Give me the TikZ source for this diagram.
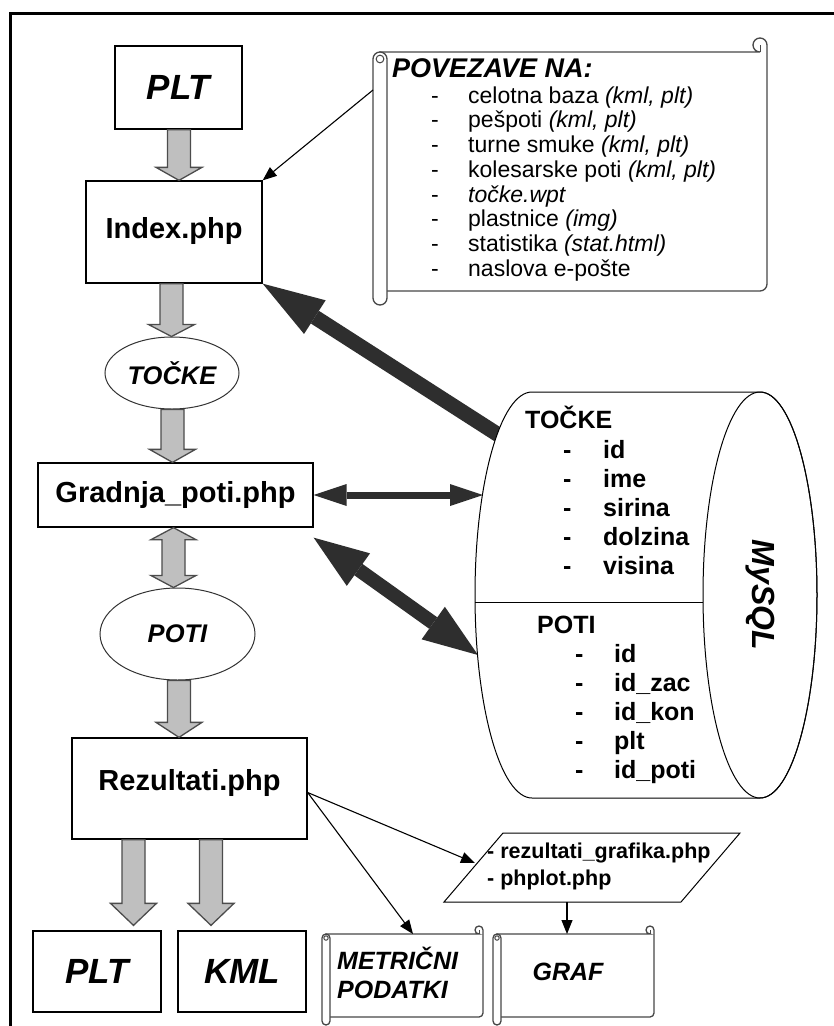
\documentclass[tikz,border=0pt]{standalone}
\usepackage{fontspec}
\setmainfont{Liberation Sans}
\usetikzlibrary{arrows.meta,shapes.geometric,calc}

\newcommand\fs[2]{\fontsize{#1}{#2}\selectfont}

% vertical grey block arrow: axis x, start anchor, tip anchor, head length
\newcommand\blkdown[4]{%
  \draw[blk] let \p1=(#2), \p2=(#3) in
    ({#1pt-11.5pt},\y1) -- ({#1pt+11.5pt},\y1) -- ({#1pt+11.5pt},{\y2+#4pt})
    -- ({#1pt+23pt},{\y2+#4pt}) -- ({#1pt},\y2) -- ({#1pt-23pt},{\y2+#4pt})
    -- ({#1pt-11.5pt},{\y2+#4pt}) -- cycle;}
% vertical grey block arrow with two heads
\newcommand\blkboth[4]{%
  \draw[blk] let \p1=(#2), \p2=(#3) in
    ({#1pt},\y1) -- ({#1pt+22.5pt},{\y1-#4pt}) -- ({#1pt+11.5pt},{\y1-#4pt})
    -- ({#1pt+11.5pt},{\y2+#4pt}) -- ({#1pt+22.5pt},{\y2+#4pt}) -- ({#1pt},\y2)
    -- ({#1pt-22.5pt},{\y2+#4pt}) -- ({#1pt-11.5pt},{\y2+#4pt})
    -- ({#1pt-11.5pt},{\y1-#4pt}) -- ({#1pt-22.5pt},{\y1-#4pt}) -- cycle;}
% horizontal scroll: left, top, right, bottom, roll size
\newcommand\scrollshape[5]{%
  \pgfmathsetmacro\rh{#5/2}
  \draw[scrollline] ({#1+\rh},{#2+#5}) -- ({#3-\rh},{#2+#5})
     arc (90:360:\rh) -- (#3,{#4-#5-\rh}) arc (0:90:\rh) -- ({#1+\rh},{#4-#5}) -- cycle;
  \draw[scrollline, line width=1pt] ({#3-\rh},{#2+\rh}) -- ({#3-\rh},{#2+#5});
  \draw[scrollline] (#1,{#2+#5+\rh}) arc (180:360:\rh) -- ({#1+#5},{#4-\rh}) arc (0:180:\rh) -- cycle;
  \draw[scrollline, line width=1pt] ({#1+\rh},{#2+#5+\rh}) circle ({0.55*\rh});
}

\tikzset{
  box/.style={draw=black, line width=1.3pt, fill=white, inner sep=0pt},
  phpfont/.style={font=\fs{29}{34}\bfseries},
  datafont/.style={font=\fs{35}{40}\bfseries\itshape},
  oval/.style={ellipse, draw=black!80, line width=1pt, fill=white, inner sep=0pt,
    font=\fs{25.5}{30}\bfseries\itshape},
  blk/.style={fill=black!25, draw=black!70, line width=1.3pt, line join=miter},
  heavy/.style={draw=black!82, line width=#1},
  link/.style={draw=black, line width=1.1pt, -{Triangle[length=14pt,width=11pt]}},
  scrollline/.style={draw=black!72, line width=1.3pt, fill=white},
  dbline/.style={draw=black, line width=1pt},
  listfont/.style={font=\fs{25}{29}\bfseries},
}

\begin{document}
\begin{tikzpicture}[x=1pt, y=-1pt]
\useasboundingbox (0,0) rectangle (834,1026);
\fill[white] (0,0) rectangle (834,1026);

% frame
\draw[line width=3pt] (10,1040) -- (10,13) -- (850,13);

% main flow
\node[box, datafont, minimum width=127pt, minimum height=83pt] (pltin) at (178.5,87.5) {PLT};
\node[box, phpfont, minimum width=176pt, minimum height=102pt] (index) at (174,232) {Index.php\rule[-9pt]{0pt}{0pt}\hspace{4pt}};
\node[oval, minimum width=134pt, minimum height=72pt] (tocke) at (172,373) {TOČKE};
\node[box, phpfont, minimum width=275pt, minimum height=64pt] (gradnja) at (175.5,495) {Gradnja\_poti.php};
\node[oval, minimum width=155pt, minimum height=92pt] (poti) at (177.5,634) {POTI};
\node[box, phpfont, minimum width=235pt, minimum height=101pt] (rez) at (189.5,788.5) {Rezultati.php\rule[-17pt]{0pt}{0pt}\hspace{16pt}};
\node[box, datafont, minimum width=128pt, minimum height=81pt] (pltout) at (97,971.5) {PLT\hspace{20pt}};
\node[box, datafont, minimum width=128pt, minimum height=81pt] (kml) at (242,971.5) {KML\hspace{15pt}};

\blkdown{179}{pltin.south}{index.north}{13}
\blkdown{171.5}{index.south}{tocke.north}{12}
\blkdown{172.5}{tocke.south}{gradnja.north}{13}
\blkboth{173.5}{gradnja.south}{poti.north}{12}
\blkdown{179}{poti.south}{rez.north}{15}
\blkdown{133.5}{rez.south}{[yshift=5pt]pltout.north}{22}
\blkdown{211}{rez.south}{[yshift=5pt]kml.north}{22}

% links list
\scrollshape{373}{38}{767}{305}{14}
\node[anchor=base west, inner sep=0pt, font=\fs{27}{30}\bfseries\itshape] (povhead) at (392,77) {POVEZAVE NA:};
\node[anchor=north west, align=left, inner sep=0pt, font=\fs{23}{24.7}] (povlist) at (431,81)
 {\rule{0pt}{22pt}\makebox[37pt][l]{-}celotna baza \textit{(kml, plt)}\\
  \makebox[37pt][l]{-}pešpoti \textit{(kml, plt)}\\
  \makebox[37pt][l]{-}turne smuke \textit{(kml, plt)}\\
  \makebox[37pt][l]{-}kolesarske poti \textit{(kml, plt)}\\
  \makebox[37pt][l]{-}\textit{točke.wpt}\\
  \makebox[37pt][l]{-}plastnice \textit{(img)}\\
  \makebox[37pt][l]{-}statistika \textit{(stat.html)}\\
  \makebox[37pt][l]{-}naslova e-pošte};
\coordinate (povL) at (373,90);
\draw[link] (povL) -- (index.north east);

% heavy connectors to the database
\coordinate (dbA) at (522,450);
\coordinate (dbB) at (483,495);
\coordinate (dbC) at (478,655);
\draw[heavy=15pt, -{Triangle[length=62pt,width=40pt,line width=0pt]}] (dbA) -- (index.south east);
\draw[heavy=7pt, {Triangle[length=33pt,width=22pt,line width=0pt]}-{Triangle[length=33pt,width=22pt,line width=0pt]}] (gradnja.east) -- (dbB);
\draw[heavy=14pt, {Triangle[length=55pt,width=40pt,line width=0pt]}-{Triangle[length=55pt,width=40pt,line width=0pt]}] ([yshift=-10pt]gradnja.south east) -- (dbC);

% database cylinder
\draw[dbline, fill=white] (532,392) -- (760,392) arc (-90:90:57 and 203) -- (532,798) arc (90:270:57 and 203) -- cycle;
\draw[dbline] (760,595) ellipse [x radius=57, y radius=203];
\draw[dbline] (475,602) -- (703,602);
\node[rotate=-90, font=\fs{32}{36}\bfseries\itshape] (db) at (760,595) {MySQL};
\node[anchor=base west, inner sep=0pt, listfont] (tocketab) at (525,428) {TOČKE};
\node[anchor=north west, align=left, inner sep=0pt, listfont] (tockecols) at (563,433)
 {\rule{0pt}{25pt}\makebox[40pt][l]{-}id\\
  \makebox[40pt][l]{-}ime\\
  \makebox[40pt][l]{-}sirina\\
  \makebox[40pt][l]{-}dolzina\\
  \makebox[40pt][l]{-}visina};
\node[anchor=base west, inner sep=0pt, listfont] (potitab) at (537,633) {POTI};
\node[anchor=north west, align=left, inner sep=0pt, listfont] (poticols) at (575,637)
 {\rule{0pt}{25pt}\makebox[39pt][l]{-}id\\
  \makebox[39pt][l]{-}id\_zac\\
  \makebox[39pt][l]{-}id\_kon\\
  \makebox[39pt][l]{-}plt\\
  \makebox[39pt][l]{-}id\_poti};

% graphics scripts
\draw[line width=1pt] (503,833) -- (740,833) -- (681,902) -- (444,902) -- cycle;
\node[anchor=north west, align=left, inner sep=0pt, font=\fs{21.5}{27}\bfseries] (para) at (487,836)
 {\rule{0pt}{22pt}- rezultati\_grafika.php\\- phplot.php};
\coordinate (paraL) at (475,863);
\coordinate (paraB) at (567,902);

% outputs
\scrollshape{322}{926}{483}{1025}{8}
\scrollshape{493}{926}{654}{1025}{8}
\node[anchor=north west, align=left, inner sep=0pt, font=\fs{25}{29}\bfseries\itshape] (metr) at (337,944)
 {\rule{0pt}{25pt}METRIČNI\\PODATKI};
\node[font=\fs{25}{29}\bfseries\itshape] (graf) at (568,972) {GRAF};
\coordinate (metrT) at (413,934);
\coordinate (grafT) at (567,934);

\draw[link] ([yshift=-4pt]rez.east) -- (paraL);
\draw[link] ([yshift=-4pt]rez.east) -- (metrT);
\draw[link] (paraB) -- (grafT);
\end{tikzpicture}
\end{document}
